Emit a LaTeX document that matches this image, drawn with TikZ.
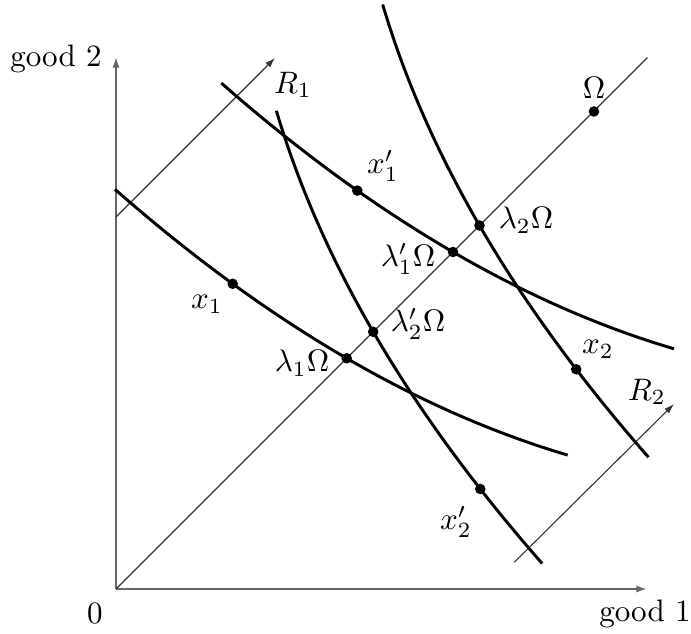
\documentclass[tikz,border=0pt]{standalone}
\usetikzlibrary{arrows.meta}
\begin{document}
\begin{tikzpicture}[x=0.322pt,y=0.322pt,
  axis/.style={draw=black!60, line width=0.6pt, -{Latex[length=3.4pt,width=2.3pt]}},
  ray/.style={draw=black!80, line width=0.35pt},
  rayarrow/.style={ray, -{Latex[length=3.2pt,width=2.1pt]}},
  curve/.style={draw=black, line width=0.95pt},
  dot/.style={circle, fill=black, inner sep=0pt, minimum size=3.4pt},
  lbl/.style={inner sep=0pt},
  declare function={f(\t)=230.7-0.58022*(\t-230.7)+((\t-230.7)/39.428)*((\t-230.7)/39.428);}]
\useasboundingbox (-116,-45) rectangle (575,589);
% axes and rays
\coordinate (O) at (0,0);
\coordinate (Ytip) at (0,532);
\coordinate (Xtip) at (531,0);
\coordinate (Dend) at (531.5,531.5);
\coordinate (R1s) at (0,372);
\coordinate (R1e) at (159,531);
\coordinate (R2s) at (398.3,26.7);
\coordinate (R2e) at (558,185);
\draw[axis] (O) -- (Ytip);
\draw[axis] (O) -- (Xtip);
\draw[ray] (O) -- (Dend);
\draw[rayarrow] (R1s) -- (R1e);
\draw[rayarrow] (R2s) -- (R2e);
% curves
\draw[curve] plot[domain=-1:451.7, samples=80, smooth] (\x,{f(\x)});
\draw[curve, shift={(106.3,106.3)}] plot[domain=-1:451.7, samples=80, smooth] (\x,{f(\x)});
\draw[curve, shift={(26.5,26.5)}] plot[domain=-1:451.7, samples=80, smooth] ({f(\x)},\x);
\draw[curve, shift={(132.8,132.8)}] plot[domain=-1:451.7, samples=80, smooth] ({f(\x)},\x);
% points
\coordinate (Om) at (478,477.5);
\coordinate (l1) at (230.7,230.7);
\coordinate (l2p) at (257.2,257.2);
\coordinate (l1p) at (337,337);
\coordinate (l2) at (363.5,363.5);
\coordinate (x1) at (116.7,305.2);
\coordinate (x1p) at (241.3,398.4);
\coordinate (x2p) at (364.3,100);
\coordinate (x2) at (460.2,219.7);
\foreach \p in {Om,l2,l1p,l2p,l1,x1,x1p,x2,x2p}
  \node[dot] (d\p) at (\p) {};
% labels
\node[lbl] (tg2) at (-60,530) {good 2};
\node[lbl] (tg1) at (529,-25) {good 1};
\node[lbl] (t0) at (-21,-25) {$0$};
\node[lbl] (tR1) at (177,504) {$R_1$};
\node[lbl] (tR2) at (531,197) {$R_2$};
\node[lbl] (tOm) at (478,501) {$\Omega$};
\node[lbl] (tl2) at (410,369) {$\lambda_2\Omega$};
\node[lbl] (tl1p) at (292,330) {$\lambda_1'\Omega$};
\node[lbl] (tl2p) at (302,265) {$\lambda_2'\Omega$};
\node[lbl] (tl1) at (186,226) {$\lambda_1\Omega$};
\node[lbl] (tx1) at (91,285) {$x_1$};
\node[lbl] (tx1p) at (267,423) {$x_1'$};
\node[lbl] (tx2) at (482,240) {$x_2$};
\node[lbl] (tx2p) at (340,67) {$x_2'$};
\end{tikzpicture}
\end{document}
